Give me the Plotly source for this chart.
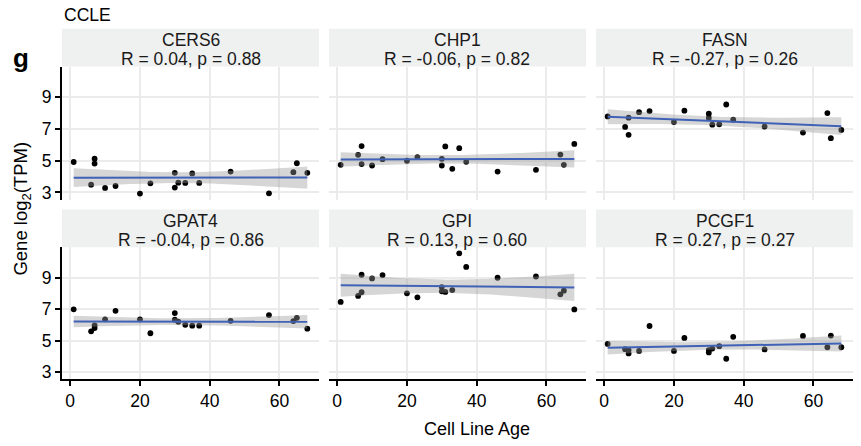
import numpy as np
import plotly.graph_objects as go

# Cell line ages (x), shared by every gene panel
age = [1, 6, 7, 7, 10, 13, 20, 23, 30, 30, 31, 33, 35, 37, 46, 57, 64, 65, 68]

genes = ["CERS6", "CHP1", "FASN", "GPAT4", "GPI", "PCGF1"]
stat_labels = [
    "R = 0.04, p = 0.88",
    "R = -0.06, p = 0.82",
    "R = -0.27, p = 0.26",
    "R = -0.04, p = 0.86",
    "R = 0.13, p = 0.60",
    "R = 0.27, p = 0.27",
]

# Gene expression, log2(TPM)
cers6 = [4.92, 3.49, 5.13, 4.82, 3.29, 3.41, 2.93, 3.58, 4.24, 3.31, 3.62, 3.60, 4.20, 3.60, 4.32, 2.95, 4.28, 4.84, 4.24]
chp1 = [4.74, 5.37, 5.92, 4.79, 4.70, 5.10, 5.00, 5.23, 5.12, 4.70, 5.90, 4.49, 5.79, 4.93, 4.32, 4.43, 5.39, 4.74, 6.06]
fasn = [7.79, 7.13, 7.71, 6.63, 8.06, 8.13, 7.44, 8.15, 7.96, 7.69, 7.27, 7.29, 8.54, 7.58, 7.15, 6.77, 8.00, 6.42, 6.94]
gpat4 = [7.00, 5.60, 5.81, 5.98, 6.36, 6.90, 6.36, 5.48, 6.76, 6.34, 6.21, 6.02, 5.96, 5.96, 6.27, 6.63, 6.25, 6.46, 5.77]
gpi = [7.47, 7.85, 9.19, 8.08, 8.96, 9.17, 8.01, 7.76, 8.41, 8.14, 8.10, 8.22, 10.55, 9.69, 9.00, 9.08, 7.95, 8.18, 6.99]
pcgf1 = [4.80, 4.47, 4.20, 4.41, 4.36, 5.94, 4.36, 5.18, 4.26, 4.41, 4.51, 4.66, 3.86, 5.25, 4.45, 5.31, 4.59, 5.33, 4.59]

x_ticks = [0, 20, 40, 60]
y_ticks = [3, 5, 7, 9]

series = [cers6, chp1, fasn, gpat4, gpi, pcgf1]

W, H = 861, 446
FONT = "Liberation Sans, Arial, Helvetica, sans-serif"
FS = 17.5
T_975_DF17 = 2.1098  # two-sided 95% t quantile, n - 2 = 17 df

# panel geometry in pixels
col_left = [62, 329, 596]
panel_w = 257
row_strip_top = [29, 211]
row_top = [67, 249]
row_bot = [201, 382]

def px(v):
    return v / W

def py(v):
    return 1 - v / H

x_arr = np.array(age, dtype=float)
xmin, xmax = x_arr.min(), x_arr.max()
xr = [xmin - 0.05 * (xmax - xmin), xmax + 0.05 * (xmax - xmin)]
allv = np.concatenate([np.array(s) for s in series])
ymin, ymax = allv.min(), allv.max()
yr = [ymin - 0.05 * (ymax - ymin), ymax + 0.05 * (ymax - ymin)]

fig = go.Figure()
shapes = []
annotations = []
layout = {}

for i, (gene, vals) in enumerate(zip(genes, series)):
    r, c = divmod(i, 3)
    k = "" if i == 0 else str(i + 1)
    xa, ya = "x" + k, "y" + k
    y = np.array(vals, dtype=float)

    # points
    fig.add_trace(go.Scatter(
        x=age, y=vals, mode="markers", xaxis=xa, yaxis=ya,
        marker=dict(color="black", size=5.8, line=dict(width=0)),
        showlegend=False, hoverinfo="x+y",
    ))

    # linear fit with 95% confidence band
    n = len(x_arr)
    b1, b0 = np.polyfit(x_arr, y, 1)
    resid = y - (b0 + b1 * x_arr)
    s = np.sqrt(np.sum(resid ** 2) / (n - 2))
    sxx = np.sum((x_arr - x_arr.mean()) ** 2)
    xs = np.linspace(xmin, xmax, 80)
    fit = b0 + b1 * xs
    se = s * np.sqrt(1 / n + (xs - x_arr.mean()) ** 2 / sxx)
    lo, hi = fit - T_975_DF17 * se, fit + T_975_DF17 * se
    fig.add_trace(go.Scatter(
        x=np.concatenate([xs, xs[::-1]]), y=np.concatenate([hi, lo[::-1]]),
        mode="lines", fill="toself", fillcolor="rgba(153,153,153,0.4)",
        line=dict(width=0), xaxis=xa, yaxis=ya, showlegend=False, hoverinfo="skip",
    ))
    fig.add_trace(go.Scatter(
        x=xs, y=fit, mode="lines", line=dict(color="#3F62B6", width=2),
        xaxis=xa, yaxis=ya, showlegend=False, hoverinfo="skip",
    ))

    L = col_left[c]
    layout["xaxis" + k] = dict(
        domain=[px(L), px(L + panel_w)], range=xr, anchor=ya,
        tickvals=x_ticks, showgrid=True, gridcolor="#EBEBEB", gridwidth=1.5,
        zeroline=False,
        showline=(r == 1), linecolor="black", linewidth=1.8,
        ticks="outside" if r == 1 else "", ticklen=5, tickwidth=1.6, tickcolor="black",
        showticklabels=(r == 1),
        tickfont=dict(family=FONT, size=FS, color="black"),
        fixedrange=True,
    )
    layout["yaxis" + k] = dict(
        domain=[py(row_bot[r]), py(row_top[r])], range=yr, anchor=xa,
        tickvals=y_ticks, showgrid=True, gridcolor="#EBEBEB", gridwidth=1.5,
        zeroline=False,
        showline=(c == 0), linecolor="black", linewidth=1.8,
        ticks="outside" if c == 0 else "", ticklen=5, tickwidth=1.6, tickcolor="black",
        showticklabels=(c == 0),
        tickfont=dict(family=FONT, size=FS, color="black"),
        fixedrange=True,
    )

    # strip
    shapes.append(dict(
        type="rect", xref="paper", yref="paper",
        x0=px(L), x1=px(L + panel_w), y0=py(row_top[r]), y1=py(row_strip_top[r]),
        fillcolor="#EFF0F0", line=dict(width=0), layer="below",
    ))
    cx = px(L + panel_w / 2)
    annotations.append(dict(
        x=cx, y=py(row_strip_top[r] + 11.5), xref="paper", yref="paper",
        text=gene, showarrow=False, xanchor="center", yanchor="middle",
        font=dict(family=FONT, size=FS, color="#1A1A1A"),
    ))
    annotations.append(dict(
        x=cx, y=py(row_strip_top[r] + 30.5), xref="paper", yref="paper",
        text=stat_labels[i], showarrow=False, xanchor="center", yanchor="middle",
        font=dict(family=FONT, size=FS, color="#1A1A1A"),
    ))

annotations += [
    dict(x=px(62), y=py(15), xref="paper", yref="paper", text="CCLE",
         showarrow=False, xanchor="left", yanchor="middle",
         font=dict(family=FONT, size=FS, color="black")),
    dict(x=px(21), y=py(58), xref="paper", yref="paper", text="<b>g</b>",
         showarrow=False, xanchor="center", yanchor="middle",
         font=dict(family=FONT, size=26, color="black")),
    dict(x=px(477), y=py(432), xref="paper", yref="paper", text="Cell Line Age",
         showarrow=False, xanchor="center", yanchor="middle",
         font=dict(family=FONT, size=18, color="black")),
    dict(x=px(22), y=py(210), xref="paper", yref="paper",
         text="Gene log<sub>2</sub>(TPM)", textangle=-90,
         showarrow=False, xanchor="center", yanchor="middle",
         font=dict(family=FONT, size=18.5, color="black")),
]

fig.update_layout(
    width=W, height=H, margin=dict(l=0, r=0, t=0, b=0),
    paper_bgcolor="white", plot_bgcolor="white",
    shapes=shapes, annotations=annotations, showlegend=False,
    **layout,
)

fig.write_html("out.html")
